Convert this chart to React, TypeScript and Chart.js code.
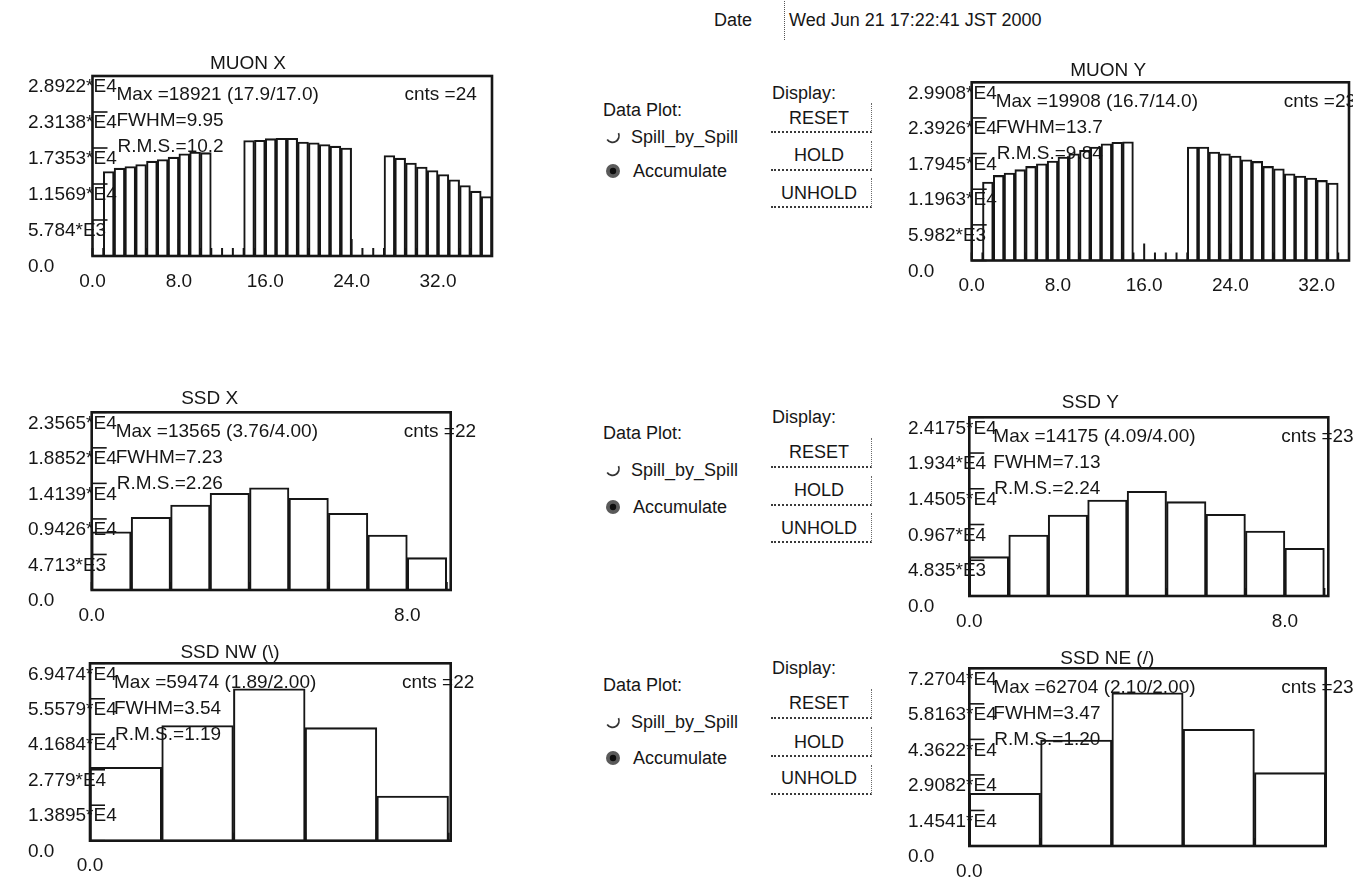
import React, { useEffect, useRef } from "react";
import { Chart, registerables } from "chart.js";

Chart.register(...registerables);

const FONT_FAMILY = '"Liberation Sans", Arial, Helvetica, sans-serif';
const INK = "#161616";

// ---------------- data ----------------
const muonXTitle = "MUON X";
const muonXValues = [
  0, 13580, 14110, 14380, 14700, 15240, 15510, 15880, 16420, 16700, 16600,
  0, 0, 0,
  18550, 18600, 18850, 18921, 18900, 18300, 18200, 17900, 17650, 17330,
  0, 0, 0,
  16150, 15720, 14920, 14280, 13740, 13100, 12240, 11330, 10420, 9560,
];
const muonXYMax = 28922;
const muonXYLabels = ["0.0", "5.784*E3", "1.1569*E4", "1.7353*E4", "2.3138*E4", "2.8922*E4"];
const muonXXTicks = [0, 8, 16, 24, 32];
const muonXXLabels = ["0.0", "8.0", "16.0", "24.0", "32.0"];
const muonXStats = ["Max =18921 (17.9/17.0)", "FWHM=9.95", "R.M.S.=10.2", "cnts =24"];

const muonYTitle = "MUON Y";
const muonYValues = [
  0, 13160, 14280, 14670, 15240, 15790, 16240, 16690, 17360, 17920, 18480, 19040, 19600, 19850, 19908,
  0, 0, 0, 0, 0,
  19040, 19040, 18200, 17920, 17530, 16910, 16630, 15790, 15400, 14560, 14170, 13830, 13440, 12990,
  0,
];
const muonYYMax = 29908;
const muonYYLabels = ["0.0", "5.982*E3", "1.1963*E4", "1.7945*E4", "2.3926*E4", "2.9908*E4"];
const muonYXTicks = [0, 8, 16, 24, 32];
const muonYXLabels = ["0.0", "8.0", "16.0", "24.0", "32.0"];
const muonYStats = ["Max =19908 (16.7/14.0)", "FWHM=13.7", "R.M.S.=9.84", "cnts =23"];

const ssdXTitle = "SSD X";
const ssdXValues = [7730, 9640, 11270, 12820, 13565, 12160, 10170, 7290, 4290];
const ssdXYMax = 23565;
const ssdXYLabels = ["0.0", "4.713*E3", "0.9426*E4", "1.4139*E4", "1.8852*E4", "2.3565*E4"];
const ssdXXTicks = [0, 8];
const ssdXXLabels = ["0.0", "8.0"];
const ssdXStats = ["Max =13565 (3.76/4.00)", "FWHM=7.23", "R.M.S.=2.26", "cnts =22"];

const ssdYTitle = "SSD Y";
const ssdYValues = [5320, 8250, 10960, 12990, 14175, 12760, 11050, 8790, 6450];
const ssdYYMax = 24175;
const ssdYYLabels = ["0.0", "4.835*E3", "0.967*E4", "1.4505*E4", "1.934*E4", "2.4175*E4"];
const ssdYXTicks = [0, 8];
const ssdYXLabels = ["0.0", "8.0"];
const ssdYStats = ["Max =14175 (4.09/4.00)", "FWHM=7.13", "R.M.S.=2.24", "cnts =23"];

const ssdNWTitle = "SSD NW (\\)";
const ssdNWValues = [28730, 45060, 59474, 44270, 17500];
const ssdNWYMax = 69474;
const ssdNWYLabels = ["0.0", "1.3895*E4", "2.779*E4", "4.1684*E4", "5.5579*E4", "6.9474*E4"];
const ssdNWXTicks = [0];
const ssdNWXLabels = ["0.0"];
const ssdNWStats = ["Max =59474 (1.89/2.00)", "FWHM=3.54", "R.M.S.=1.19", "cnts =22"];

const ssdNETitle = "SSD NE (/)";
const ssdNEValues = [21560, 43380, 62704, 47750, 30000];
const ssdNEYMax = 72704;
const ssdNEYLabels = ["0.0", "1.4541*E4", "2.9082*E4", "4.3622*E4", "5.8163*E4", "7.2704*E4"];
const ssdNEXTicks = [0];
const ssdNEXLabels = ["0.0"];
const ssdNEStats = ["Max =62704 (2.10/2.00)", "FWHM=3.47", "R.M.S.=1.20", "cnts =23"];

const dateLabel = "Date";
const dateText = "Wed Jun 21 17:22:41 JST 2000";
const buttonLabels = ["RESET", "HOLD", "UNHOLD"];
const radioLabels = ["Spill_by_Spill", "Accumulate"];

// ---------------- layout ----------------
type Frame = { L: number; T: number; R: number; B: number };
type Panel = {
  title: string;
  values: number[];
  yMax: number;
  yLabels: string[];
  xTicks: number[];
  xLabels: string[];
  stats: string[];
  xMax: number;
  frame: Frame;
  labelX: number;
  titleDX: number;
  titleDY: number;
};

const panels: Panel[] = [
  { title: muonXTitle, values: muonXValues, yMax: muonXYMax, yLabels: muonXYLabels, xTicks: muonXXTicks, xLabels: muonXXLabels, stats: muonXStats, xMax: 37,
    frame: { L: 92.5, T: 76, R: 492, B: 256 }, labelX: 28, titleDX: 155.5, titleDY: 12 },
  { title: muonYTitle, values: muonYValues, yMax: muonYYMax, yLabels: muonYYLabels, xTicks: muonYXTicks, xLabels: muonYXLabels, stats: muonYStats, xMax: 35,
    frame: { L: 971.7, T: 82.3, R: 1349, B: 260.5 }, labelX: 908, titleDX: 136.5, titleDY: 12 },
  { title: ssdXTitle, values: ssdXValues, yMax: ssdXYMax, yLabels: ssdXYLabels, xTicks: ssdXXTicks, xLabels: ssdXXLabels, stats: ssdXStats, xMax: 9.1,
    frame: { L: 91.7, T: 412.3, R: 450.7, B: 590 }, labelX: 28, titleDX: 118, titleDY: 14 },
  { title: ssdYTitle, values: ssdYValues, yMax: ssdYYMax, yLabels: ssdYYLabels, xTicks: ssdYXTicks, xLabels: ssdYXLabels, stats: ssdYStats, xMax: 9.1,
    frame: { L: 969.3, T: 417.3, R: 1328.3, B: 596 }, labelX: 908, titleDX: 121, titleDY: 15 },
  { title: ssdNWTitle, values: ssdNWValues, yMax: ssdNWYMax, yLabels: ssdNWYLabels, xTicks: ssdNWXTicks, xLabels: ssdNWXLabels, stats: ssdNWStats, xMax: 5.03,
    frame: { L: 90, T: 663.3, R: 450.7, B: 840.7 }, labelX: 28, titleDX: 140, titleDY: 11 },
  { title: ssdNETitle, values: ssdNEValues, yMax: ssdNEYMax, yLabels: ssdNEYLabels, xTicks: ssdNEXTicks, xLabels: ssdNEXLabels, stats: ssdNEStats, xMax: 5,
    frame: { L: 969.3, T: 668.3, R: 1325.7, B: 846 }, labelX: 908, titleDX: 138, titleDY: 10 },
];

const PAGE_W = 1353;
const PAGE_H = 878;

function canvasBox(p: Panel) {
  const f = p.frame;
  const left = Math.floor(p.labelX);
  const top = Math.floor(f.T) - 34;
  const right = Math.min(PAGE_W, Math.ceil(f.R) + 32);
  const bottom = Math.ceil(f.B) + 50;
  return {
    left,
    top,
    w: right - left,
    h: bottom - top,
    padLeft: p.labelX - left,
    padTop: f.T - top,
    padRight: right - f.R,
    yWidth: f.L - p.labelX,
    xHeight: bottom - f.B,
  };
}

const histDecor = {
  id: "histDecor",
  afterDatasetsDraw(chart: any, _args: any, opts: any) {
    const { ctx, chartArea: a } = chart;
    const x = chart.scales.x;
    const y = chart.scales.y;
    ctx.save();
    ctx.strokeStyle = INK;
    ctx.lineCap = "butt";
    // inner x ticks (one per channel)
    ctx.lineWidth = 2;
    for (let v = Math.ceil(x.min); v <= x.max + 1e-6; v++) {
      const px = x.getPixelForValue(v);
      const len = v > 0 && v % 8 === 0 ? 17 : 8;
      ctx.beginPath();
      ctx.moveTo(px, a.bottom);
      ctx.lineTo(px, a.bottom - len);
      ctx.stroke();
    }
    // inner y ticks
    ctx.lineWidth = 1.6;
    y.ticks.forEach((t: any) => {
      const py = y.getPixelForValue(t.value);
      ctx.beginPath();
      ctx.moveTo(a.left, py);
      ctx.lineTo(a.left + 15, py);
      ctx.stroke();
    });
    // frame
    ctx.lineWidth = 2.6;
    ctx.strokeRect(a.left, a.top, a.right - a.left, a.bottom - a.top);
    // statistics text
    ctx.fillStyle = INK;
    ctx.font = `19px ${FONT_FAMILY}`;
    ctx.textBaseline = "middle";
    ctx.textAlign = "left";
    const st: string[] = opts.stats;
    ctx.fillText(st[0], a.left + 24, a.top + 19);
    ctx.fillText(st[1], a.left + 24, a.top + 45);
    ctx.fillText(st[2], a.left + 25, a.top + 71);
    ctx.fillText(st[3], a.left + 312, a.top + 19);
    // title
    ctx.textAlign = "center";
    ctx.fillText(opts.title, a.left + opts.titleDX, a.top - opts.titleDY);
    ctx.restore();
  },
};

function makeConfig(p: Panel, box: ReturnType<typeof canvasBox>): any {
  const font = { family: FONT_FAMILY, size: 19 };
  return {
    type: "bar",
    data: {
      datasets: [
        {
          data: p.values.map((v, i) => ({ x: i + 0.5, y: v })),
          backgroundColor: "rgba(255,255,255,0)",
          borderColor: INK,
          borderWidth: 1.4,
          borderSkipped: "bottom",
          barPercentage: 1,
          categoryPercentage: 1,
        },
      ],
    },
    options: {
      animation: false,
      responsive: false,
      maintainAspectRatio: false,
      events: [],
      layout: { padding: { left: box.padLeft, top: box.padTop, right: box.padRight, bottom: 0 } },
      plugins: {
        legend: { display: false },
        tooltip: { enabled: false },
        title: { display: false },
        histDecor: { stats: p.stats, title: p.title, titleDX: p.titleDX, titleDY: p.titleDY },
      },
      scales: {
        x: {
          type: "linear",
          min: 0,
          max: p.xMax,
          offset: false,
          grid: { display: false, drawTicks: false },
          border: { display: false },
          afterBuildTicks: (s: any) => {
            s.ticks = p.xTicks.map((v) => ({ value: v }));
          },
          afterFit: (s: any) => {
            s.height = box.xHeight;
          },
          ticks: {
            autoSkip: false,
            maxRotation: 0,
            minRotation: 0,
            padding: 14,
            color: INK,
            font,
            callback: (_v: any, i: number) => p.xLabels[i],
          },
        },
        y: {
          type: "linear",
          min: 0,
          max: p.yMax,
          grid: { display: false, drawTicks: false },
          border: { display: false },
          afterBuildTicks: (s: any) => {
            s.ticks = p.yLabels.map((_l, i) => ({ value: (p.yMax * i) / (p.yLabels.length - 1) }));
          },
          afterFit: (s: any) => {
            s.width = box.yWidth;
          },
          ticks: {
            autoSkip: false,
            mirror: true,
            crossAlign: "near",
            labelOffset: 11,
            padding: -box.yWidth,
            color: INK,
            font,
            callback: (_v: any, i: number) => p.yLabels[i],
          },
        },
      },
    },
    plugins: [histDecor],
  };
}

function HistPanel({ p }: { p: Panel }) {
  const ref = useRef<HTMLCanvasElement | null>(null);
  const box = canvasBox(p);
  useEffect(() => {
    if (!ref.current) return;
    const chart = new Chart(ref.current, makeConfig(p, box));
    return () => chart.destroy();
  }, []);
  return (
    <canvas
      ref={ref}
      width={box.w}
      height={box.h}
      style={{ position: "absolute", left: box.left, top: box.top, width: box.w, height: box.h }}
    />
  );
}

// ---------------- control blocks ----------------
type Block = {
  display: number;
  dataPlot: number;
  spill: number;
  accum: number;
  btnBottoms: number[];
  btnText: number[];
};

const blocks: Block[] = [
  { display: 93, dataPlot: 110, spill: 137, accum: 171, btnBottoms: [133, 171, 208], btnText: [118, 155, 193] },
  { display: 417, dataPlot: 433, spill: 470, accum: 507, btnBottoms: [468, 506, 543], btnText: [452, 490, 528] },
  { display: 668, dataPlot: 685, spill: 722, accum: 758, btnBottoms: [719, 757, 795], btnText: [703, 742, 778] },
];

const textStyle: React.CSSProperties = {
  position: "absolute",
  fontFamily: FONT_FAMILY,
  fontSize: 18,
  lineHeight: "22px",
  color: INK,
  whiteSpace: "nowrap",
};

function Txt({ x, y, children, align }: { x: number; y: number; children: React.ReactNode; align?: "center" | "right" }) {
  if (align === "center") {
    return <div style={{ ...textStyle, left: x - 80, width: 160, textAlign: "center", top: y - 11 }}>{children}</div>;
  }
  if (align === "right") {
    return <div style={{ ...textStyle, left: x - 160, width: 160, textAlign: "right", top: y - 11 }}>{children}</div>;
  }
  return <div style={{ ...textStyle, left: x, top: y - 11 }}>{children}</div>;
}

function SpillIcon({ x, y }: { x: number; y: number }) {
  return (
    <svg width={18} height={18} style={{ position: "absolute", left: x - 9, top: y - 9 }}>
      <path d="M3.2 11.5 A6.5 6.5 0 0 0 14.5 5.2" stroke="#333" strokeWidth={1.7} fill="none" />
    </svg>
  );
}

function AccumIcon({ x, y }: { x: number; y: number }) {
  return (
    <svg width={18} height={18} style={{ position: "absolute", left: x - 9, top: y - 9 }}>
      <circle cx={9} cy={9} r={7} fill="#5a5a5a" />
      <circle cx={9} cy={9} r={3.2} fill="#0d0d0d" />
    </svg>
  );
}

function ControlBlock({ b }: { b: Block }) {
  return (
    <>
      <Txt x={772} y={b.display}>Display:</Txt>
      <Txt x={603} y={b.dataPlot}>Data Plot:</Txt>
      <SpillIcon x={613} y={b.spill} />
      <Txt x={631} y={b.spill}>{radioLabels[0]}</Txt>
      <AccumIcon x={613} y={b.accum} />
      <Txt x={633} y={b.accum}>{radioLabels[1]}</Txt>
      {buttonLabels.map((lab, i) => (
        <React.Fragment key={lab}>
          <div
            style={{
              position: "absolute",
              left: 771,
              top: b.btnBottoms[i] - 30,
              width: 101,
              height: 30,
              borderBottom: "2px dotted #3a3a3a",
              borderRight: "1.5px dotted #6a6a6a",
              boxSizing: "border-box",
            }}
          />
          <Txt x={819} y={b.btnText[i]} align="center">{lab}</Txt>
        </React.Fragment>
      ))}
    </>
  );
}

export default function App() {
  return (
    <div
      style={{
        position: "fixed",
        left: 0,
        top: 0,
        width: PAGE_W,
        height: PAGE_H,
        background: "#ffffff",
        overflow: "hidden",
      }}
    >
      <Txt x={752} y={20} align="right">{dateLabel}</Txt>
      <div style={{ position: "absolute", left: 784, top: 1, width: 0, height: 39, borderLeft: "1.5px dotted #555" }} />
      <Txt x={789} y={20}>{dateText}</Txt>
      {blocks.map((b, i) => (
        <ControlBlock key={i} b={b} />
      ))}
      {panels.map((p) => (
        <HistPanel key={p.title} p={p} />
      ))}
    </div>
  );
}
